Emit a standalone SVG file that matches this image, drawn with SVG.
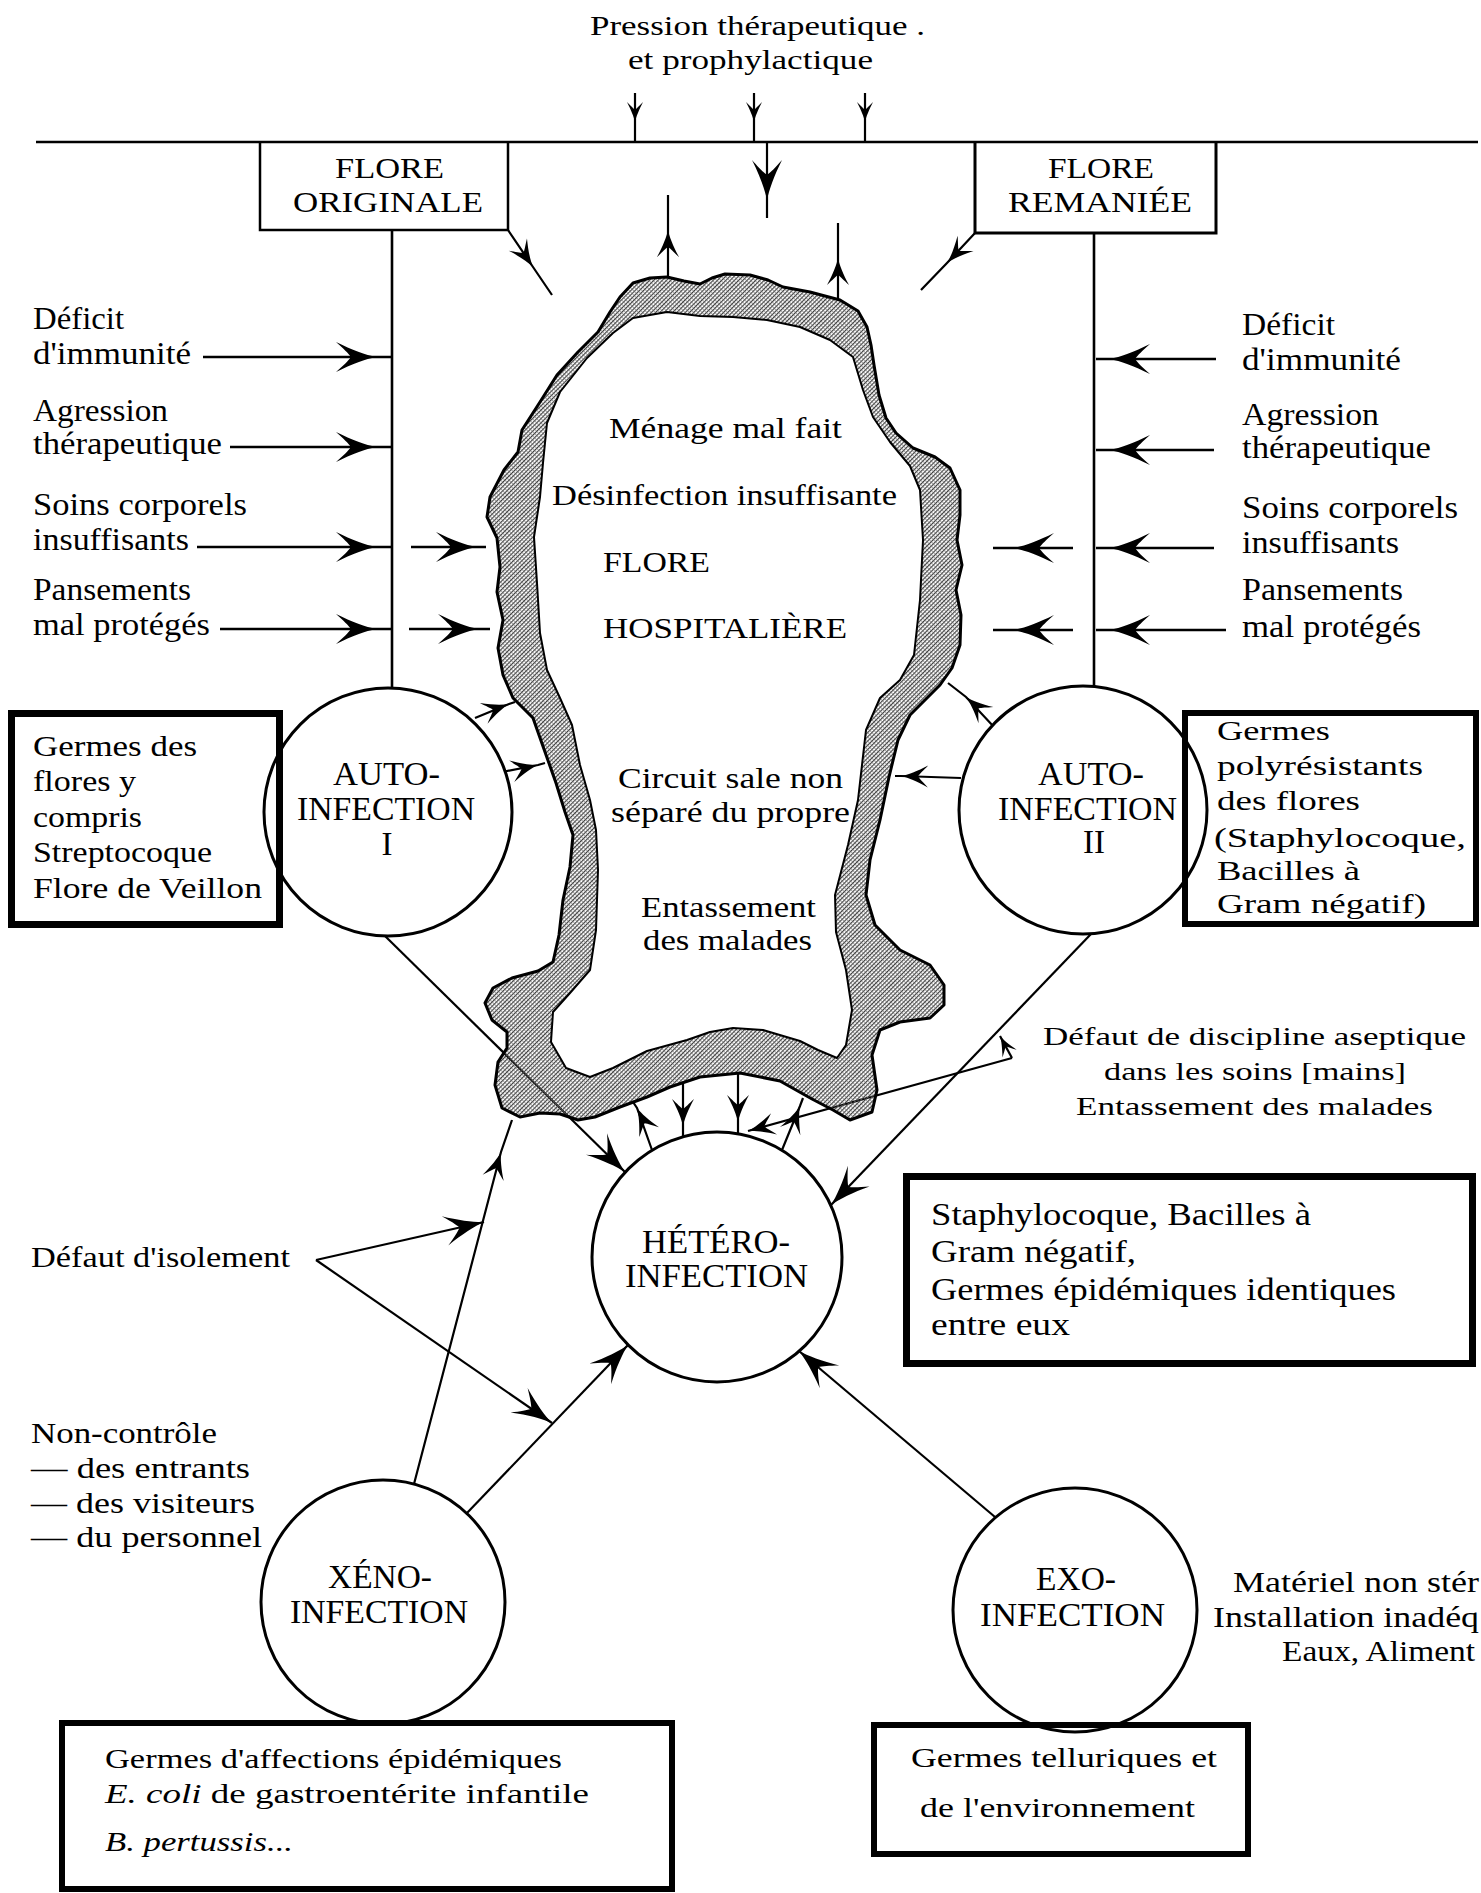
<svg xmlns="http://www.w3.org/2000/svg" width="1481" height="1893" viewBox="0 0 1481 1893">
<style>
.t{font-family:"Liberation Serif","Times New Roman",serif;fill:#000}
.it{font-style:italic}
.ln{stroke:#000;stroke-width:2.2;fill:none}
.lw{stroke:#000;stroke-width:2.6;fill:none}
.ci{fill:#fff;stroke:#000;stroke-width:3}
.bx{fill:none;stroke:#000}
</style>
<defs>
<marker id="ahL" markerUnits="userSpaceOnUse" viewBox="-45 -20 50 40" markerWidth="50" markerHeight="40" refX="0" refY="0" orient="auto" overflow="visible">
<path d="M0,0 C-10,-2 -24,-7 -40,-15 C-32,-8 -28,-4 -25,0 C-28,4 -32,8 -40,15 C-24,7 -10,2 0,0 Z" fill="#000"/>
</marker>
<marker id="ahM" markerUnits="userSpaceOnUse" viewBox="-45 -20 50 40" markerWidth="50" markerHeight="40" refX="0" refY="0" orient="auto" overflow="visible">
<path d="M0,0 C-7,-1.5 -16,-5 -27,-11 C-22,-5.5 -19,-3 -17,0 C-19,3 -22,5.5 -27,11 C-16,5 -7,1.5 0,0 Z" fill="#000"/>
</marker>
<marker id="ahS" markerUnits="userSpaceOnUse" viewBox="-45 -20 50 40" markerWidth="50" markerHeight="40" refX="0" refY="0" orient="auto" overflow="visible">
<path d="M0,0 C-5,-1 -12,-4 -20,-8 C-16,-4 -14,-2 -12,0 C-14,2 -16,4 -20,8 C-12,4 -5,1 0,0 Z" fill="#000"/>
</marker>
<pattern id="hatch" width="3" height="3" patternUnits="userSpaceOnUse" patternTransform="rotate(45)">
<rect width="1.1" height="3" fill="#3a3a3a"/>
<rect y="0" width="3" height="0.6" fill="#6a6a6a"/>
</pattern>
</defs>
<rect width="1481" height="1893" fill="#fff"/>

<g id="connectors">
<path class="lw" d="M36,142 H1478"/>
<path class="ln" d="M635,93 L635,122 L635,142" marker-mid="url(#ahS)"/>
<path class="ln" d="M754,93 L754,122 L754,142" marker-mid="url(#ahS)"/>
<path class="ln" d="M865,93 L865,122 L865,142" marker-mid="url(#ahS)"/>
<path class="ln" d="M767,142 L767,200 L767,218" marker-mid="url(#ahL)"/>
<path class="ln" d="M668,277 L668,230 L668,195" marker-mid="url(#ahM)"/>
<path class="ln" d="M838,300 L838,258 L838,223" marker-mid="url(#ahM)"/>
<path class="ln" d="M508,230 L533,267 L552,295" marker-mid="url(#ahM)"/>
<path class="ln" d="M975,233 L947,263 L921,290" marker-mid="url(#ahM)"/>
<path class="lw" d="M392,230 V688"/>
<path class="lw" d="M1094,233 V686"/>
<path class="lw" d="M203,357 L376,357 L392,357" marker-mid="url(#ahL)"/>
<path class="lw" d="M230,447 L376,447 L392,447" marker-mid="url(#ahL)"/>
<path class="lw" d="M197,547 L376,547 L392,547" marker-mid="url(#ahL)"/>
<path class="lw" d="M220,629 L376,629 L392,629" marker-mid="url(#ahL)"/>
<path class="lw" d="M411,547 L476,547 L486,547" marker-mid="url(#ahL)"/>
<path class="lw" d="M409,629 L478,629 L490,629" marker-mid="url(#ahL)"/>
<path class="lw" d="M1216,359 L1110,359 L1096,359" marker-mid="url(#ahL)"/>
<path class="lw" d="M1214,450 L1110,450 L1096,450" marker-mid="url(#ahL)"/>
<path class="lw" d="M1214,548 L1110,548 L1096,548" marker-mid="url(#ahL)"/>
<path class="lw" d="M1226,630 L1110,630 L1096,630" marker-mid="url(#ahL)"/>
<path class="lw" d="M1073,548 L1014,548 L993,548" marker-mid="url(#ahL)"/>
<path class="lw" d="M1073,630 L1014,630 L993,630" marker-mid="url(#ahL)"/>
<path class="ln" d="M475,718 L509,704 L515,702" marker-mid="url(#ahM)"/>
<path class="ln" d="M502,772 L538,765 L545,763" marker-mid="url(#ahM)"/>
<path class="ln" d="M994,727 L966,697 L948,683" marker-mid="url(#ahM)"/>
<path class="ln" d="M961,778 L901,776 L895,776" marker-mid="url(#ahM)"/>
<path class="ln" d="M385,936 L625,1172" marker-end="url(#ahL)"/>
<path class="ln" d="M1091,934 L831,1205" marker-end="url(#ahL)"/>
<path class="ln" d="M652,1150 L637,1108 L633,1102" marker-mid="url(#ahM)"/>
<path class="ln" d="M683,1083 L683,1126 L683,1137" marker-mid="url(#ahM)"/>
<path class="ln" d="M738,1073 L738,1122 L738,1134" marker-mid="url(#ahM)"/>
<path class="ln" d="M782,1150 L800,1106 L803,1098" marker-mid="url(#ahM)"/>
<path class="ln" d="M1012,1058 L748,1131" marker-end="url(#ahM)"/>
<path class="ln" d="M1012,1058 L1000,1036" marker-end="url(#ahS)"/>
<path class="ln" d="M414,1484 L501,1152 L512,1120" marker-mid="url(#ahM)"/>
<path class="ln" d="M467,1513 L628,1345" marker-end="url(#ahL)"/>
<path class="ln" d="M316,1260 L484,1222" marker-end="url(#ahL)"/>
<path class="ln" d="M316,1260 L552,1423" marker-end="url(#ahL)"/>
<path class="ln" d="M995,1517 L799,1351" marker-end="url(#ahL)"/>
</g>

<g id="flore-hospitaliere">
<path fill="url(#hatch)" fill-rule="evenodd" d="M620,297 L633,283 L650,278 L667,277 L684,281 L700,284 L712,278 L725,274 L750,275 L768,280 L783,287 L810,292 L840,300 L858,311 L867,327 L871,345 L874,365 L879,395 L886,418 L896,433 L913,448 L935,457 L950,468 L960,490 L960,515 L957,540 L962,565 L956,590 L961,615 L960,645 L952,668 L940,685 L925,700 L910,715 L898,740 L889,777 L880,820 L870,860 L866,895 L875,925 L900,950 L930,965 L944,985 L944,1005 L930,1018 L900,1022 L880,1030 L872,1055 L877,1090 L872,1112 L850,1120 L833,1110 L812,1099 L780,1081 L740,1073 L700,1077 L670,1087 L647,1097 L620,1107 L595,1117 L578,1120 L560,1114 L540,1113 L520,1117 L502,1108 L495,1085 L498,1062 L507,1048 L507,1032 L492,1020 L485,1003 L493,988 L512,978 L538,971 L553,962 L559,935 L563,900 L570,867 L573,835 L565,812 L556,783 L545,752 L533,718 L513,698 L503,675 L498,648 L503,620 L497,592 L500,567 L497,538 L487,517 L490,497 L504,470 L518,452 L522,430 L540,402 L557,375 L578,352 L598,332 L610,312 Z M613,333 L633,318 L667,312 L700,316 L733,317 L767,320 L800,327 L830,340 L853,357 L863,390 L873,417 L890,442 L910,466 L920,490 L923,540 L920,600 L914,655 L900,680 L880,698 L866,730 L858,800 L848,845 L835,895 L836,932 L846,970 L852,1010 L846,1045 L837,1058 L818,1050 L800,1041 L763,1030 L733,1028 L710,1032 L687,1040 L647,1051 L613,1068 L590,1077 L566,1068 L551,1042 L553,1012 L570,993 L590,970 L596,930 L598,870 L596,830 L590,800 L580,765 L572,725 L560,698 L547,670 L540,633 L537,583 L534,537 L540,497 L543,463 L547,423 L560,392 L587,358 Z"/>
<path fill="none" stroke="#000" stroke-width="3" stroke-linejoin="round" d="M620,297 L633,283 L650,278 L667,277 L684,281 L700,284 L712,278 L725,274 L750,275 L768,280 L783,287 L810,292 L840,300 L858,311 L867,327 L871,345 L874,365 L879,395 L886,418 L896,433 L913,448 L935,457 L950,468 L960,490 L960,515 L957,540 L962,565 L956,590 L961,615 L960,645 L952,668 L940,685 L925,700 L910,715 L898,740 L889,777 L880,820 L870,860 L866,895 L875,925 L900,950 L930,965 L944,985 L944,1005 L930,1018 L900,1022 L880,1030 L872,1055 L877,1090 L872,1112 L850,1120 L833,1110 L812,1099 L780,1081 L740,1073 L700,1077 L670,1087 L647,1097 L620,1107 L595,1117 L578,1120 L560,1114 L540,1113 L520,1117 L502,1108 L495,1085 L498,1062 L507,1048 L507,1032 L492,1020 L485,1003 L493,988 L512,978 L538,971 L553,962 L559,935 L563,900 L570,867 L573,835 L565,812 L556,783 L545,752 L533,718 L513,698 L503,675 L498,648 L503,620 L497,592 L500,567 L497,538 L487,517 L490,497 L504,470 L518,452 L522,430 L540,402 L557,375 L578,352 L598,332 L610,312 Z"/>
<path fill="none" stroke="#000" stroke-width="2" stroke-linejoin="round" d="M613,333 L633,318 L667,312 L700,316 L733,317 L767,320 L800,327 L830,340 L853,357 L863,390 L873,417 L890,442 L910,466 L920,490 L923,540 L920,600 L914,655 L900,680 L880,698 L866,730 L858,800 L848,845 L835,895 L836,932 L846,970 L852,1010 L846,1045 L837,1058 L818,1050 L800,1041 L763,1030 L733,1028 L710,1032 L687,1040 L647,1051 L613,1068 L590,1077 L566,1068 L551,1042 L553,1012 L570,993 L590,970 L596,930 L598,870 L596,830 L590,800 L580,765 L572,725 L560,698 L547,670 L540,633 L537,583 L534,537 L540,497 L543,463 L547,423 L560,392 L587,358 Z"/>
<g class="t" font-size="29">
<text x="609" y="438" textLength="233" lengthAdjust="spacingAndGlyphs">Ménage mal fait</text>
<text x="552" y="505" textLength="345" lengthAdjust="spacingAndGlyphs">Désinfection insuffisante</text>
<text x="603" y="572" textLength="107" lengthAdjust="spacingAndGlyphs">FLORE</text>
<text x="603" y="638" textLength="244" lengthAdjust="spacingAndGlyphs">HOSPITALIÈRE</text>
<text x="618" y="788" textLength="225" lengthAdjust="spacingAndGlyphs">Circuit sale non</text>
<text x="611" y="822" textLength="239" lengthAdjust="spacingAndGlyphs">séparé du propre</text>
<text x="641" y="917" textLength="175" lengthAdjust="spacingAndGlyphs">Entassement</text>
<text x="643" y="950" textLength="169" lengthAdjust="spacingAndGlyphs">des malades</text>
</g>
</g>

<g id="flore-originale">
<path class="bx" stroke-width="2.5" d="M260,142 V230 H508 V142"/>
<g class="t" font-size="30">
<text x="335" y="178" textLength="109" lengthAdjust="spacingAndGlyphs">FLORE</text>
<text x="293" y="212" textLength="190" lengthAdjust="spacingAndGlyphs">ORIGINALE</text>
</g>
</g>
<g id="flore-remaniee">
<path class="bx" stroke-width="3" d="M975,142 V233 H1216 V142"/>
<g class="t" font-size="30">
<text x="1048" y="178" textLength="106" lengthAdjust="spacingAndGlyphs">FLORE</text>
<text x="1008" y="212" textLength="184" lengthAdjust="spacingAndGlyphs">REMANIÉE</text>
</g>
</g>

<g id="top-label" class="t" font-size="27">
<text x="590" y="35" textLength="335" lengthAdjust="spacingAndGlyphs">Pression thérapeutique .</text>
<text x="628" y="69" textLength="245" lengthAdjust="spacingAndGlyphs">et prophylactique</text>
</g>

<g id="left-factors" class="t" font-size="31">
<text x="33" y="329" textLength="91" lengthAdjust="spacingAndGlyphs">Déficit</text>
<text x="33" y="364" textLength="158" lengthAdjust="spacingAndGlyphs">d'immunité</text>
<text x="33" y="421" textLength="135" lengthAdjust="spacingAndGlyphs">Agression</text>
<text x="33" y="454" textLength="189" lengthAdjust="spacingAndGlyphs">thérapeutique</text>
<text x="33" y="515" textLength="214" lengthAdjust="spacingAndGlyphs">Soins corporels</text>
<text x="33" y="550" textLength="156" lengthAdjust="spacingAndGlyphs">insuffisants</text>
<text x="33" y="600" textLength="158" lengthAdjust="spacingAndGlyphs">Pansements</text>
<text x="33" y="635" textLength="177" lengthAdjust="spacingAndGlyphs">mal protégés</text>
</g>
<g id="right-factors" class="t" font-size="31">
<text x="1242" y="335" textLength="93" lengthAdjust="spacingAndGlyphs">Déficit</text>
<text x="1242" y="370" textLength="159" lengthAdjust="spacingAndGlyphs">d'immunité</text>
<text x="1242" y="425" textLength="137" lengthAdjust="spacingAndGlyphs">Agression</text>
<text x="1242" y="458" textLength="189" lengthAdjust="spacingAndGlyphs">thérapeutique</text>
<text x="1242" y="518" textLength="216" lengthAdjust="spacingAndGlyphs">Soins corporels</text>
<text x="1242" y="553" textLength="157" lengthAdjust="spacingAndGlyphs">insuffisants</text>
<text x="1242" y="600" textLength="161" lengthAdjust="spacingAndGlyphs">Pansements</text>
<text x="1242" y="637" textLength="179" lengthAdjust="spacingAndGlyphs">mal protégés</text>
</g>

<g id="auto-infection-1">
<circle class="ci" cx="388" cy="812" r="124"/>
<g class="t" font-size="33">
<text x="333" y="785" textLength="107" lengthAdjust="spacingAndGlyphs">AUTO-</text>
<text x="297" y="820" textLength="178" lengthAdjust="spacingAndGlyphs">INFECTION</text>
<text x="387" y="855" text-anchor="middle">I</text>
</g>
</g>
<g id="auto-infection-2">
<circle class="ci" cx="1083" cy="810" r="124"/>
<g class="t" font-size="33">
<text x="1038" y="785" textLength="106" lengthAdjust="spacingAndGlyphs">AUTO-</text>
<text x="998" y="820" textLength="179" lengthAdjust="spacingAndGlyphs">INFECTION</text>
<text x="1094" y="853" text-anchor="middle">II</text>
</g>
</g>
<g id="hetero-infection">
<circle class="ci" cx="717" cy="1257" r="125"/>
<g class="t" font-size="33">
<text x="642" y="1253" textLength="148" lengthAdjust="spacingAndGlyphs">HÉTÉRO-</text>
<text x="625" y="1287" textLength="183" lengthAdjust="spacingAndGlyphs">INFECTION</text>
</g>
</g>
<g id="xeno-infection">
<circle class="ci" cx="383" cy="1602" r="122"/>
<g class="t" font-size="33">
<text x="328" y="1588" textLength="104" lengthAdjust="spacingAndGlyphs">XÉNO-</text>
<text x="290" y="1623" textLength="178" lengthAdjust="spacingAndGlyphs">INFECTION</text>
</g>
</g>
<g id="exo-infection">
<circle class="ci" cx="1075" cy="1610" r="122"/>
<g class="t" font-size="33">
<text x="1036" y="1590" textLength="80" lengthAdjust="spacingAndGlyphs">EXO-</text>
<text x="980" y="1626" textLength="185" lengthAdjust="spacingAndGlyphs">INFECTION</text>
</g>
</g>

<g id="box-auto1">
<rect class="bx" stroke-width="7" x="11.5" y="713.5" width="268" height="211"/>
<g class="t" font-size="29">
<text x="33" y="756" textLength="164" lengthAdjust="spacingAndGlyphs">Germes des</text>
<text x="33" y="791" textLength="103" lengthAdjust="spacingAndGlyphs">flores y</text>
<text x="33" y="827" textLength="109" lengthAdjust="spacingAndGlyphs">compris</text>
<text x="33" y="862" textLength="179" lengthAdjust="spacingAndGlyphs">Streptocoque</text>
<text x="33" y="898" textLength="229" lengthAdjust="spacingAndGlyphs">Flore de Veillon</text>
</g>
</g>
<g id="box-auto2">
<rect class="bx" stroke-width="6" x="1185" y="713" width="291" height="211"/>
<g class="t" font-size="28">
<text x="1217" y="740" textLength="113" lengthAdjust="spacingAndGlyphs">Germes</text>
<text x="1217" y="775" textLength="206" lengthAdjust="spacingAndGlyphs">polyrésistants</text>
<text x="1217" y="810" textLength="143" lengthAdjust="spacingAndGlyphs">des flores</text>
<text x="1214" y="847" textLength="252" lengthAdjust="spacingAndGlyphs">(Staphylocoque,</text>
<text x="1217" y="880" textLength="143" lengthAdjust="spacingAndGlyphs">Bacilles à</text>
<text x="1217" y="913" textLength="209" lengthAdjust="spacingAndGlyphs">Gram négatif)</text>
</g>
</g>
<g id="box-hetero">
<rect class="bx" stroke-width="7" x="906.5" y="1176.5" width="566" height="187"/>
<g class="t" font-size="31">
<text x="931" y="1225" textLength="380" lengthAdjust="spacingAndGlyphs">Staphylocoque, Bacilles à</text>
<text x="931" y="1262" textLength="205" lengthAdjust="spacingAndGlyphs">Gram négatif,</text>
<text x="931" y="1300" textLength="465" lengthAdjust="spacingAndGlyphs">Germes épidémiques identiques</text>
<text x="931" y="1335" textLength="139" lengthAdjust="spacingAndGlyphs">entre eux</text>
</g>
</g>
<g id="box-xeno">
<rect class="bx" stroke-width="6" x="62" y="1723" width="610" height="166"/>
<g class="t" font-size="28">
<text x="105" y="1768" textLength="457" lengthAdjust="spacingAndGlyphs">Germes d'affections épidémiques</text>
<text x="105" y="1803" textLength="484" lengthAdjust="spacingAndGlyphs"><tspan class="it">E. coli</tspan> de gastroentérite infantile</text>
<text x="105" y="1851" textLength="188" lengthAdjust="spacingAndGlyphs" class="it">B. pertussis...</text>
</g>
</g>
<g id="box-exo">
<rect class="bx" stroke-width="6" x="874" y="1725" width="374" height="129"/>
<g class="t" font-size="28">
<text x="911" y="1767" textLength="306" lengthAdjust="spacingAndGlyphs">Germes telluriques et</text>
<text x="920" y="1817" textLength="275" lengthAdjust="spacingAndGlyphs">de l'environnement</text>
</g>
</g>

<g id="label-discipline" class="t" font-size="26">
<text x="1043" y="1045" textLength="423" lengthAdjust="spacingAndGlyphs">Défaut de discipline aseptique</text>
<text x="1104" y="1080" textLength="302" lengthAdjust="spacingAndGlyphs">dans les soins [mains]</text>
<text x="1076" y="1115" textLength="357" lengthAdjust="spacingAndGlyphs">Entassement des malades</text>
</g>
<g id="label-isolement" class="t" font-size="29">
<text x="31" y="1267" textLength="259" lengthAdjust="spacingAndGlyphs">Défaut d'isolement</text>
</g>
<g id="label-controle" class="t" font-size="29">
<text x="31" y="1443" textLength="186" lengthAdjust="spacingAndGlyphs">Non-contrôle</text>
<text x="31" y="1478" textLength="219" lengthAdjust="spacingAndGlyphs">— des entrants</text>
<text x="31" y="1513" textLength="224" lengthAdjust="spacingAndGlyphs">— des visiteurs</text>
<text x="31" y="1547" textLength="231" lengthAdjust="spacingAndGlyphs">— du personnel</text>
</g>
<g id="label-exo" class="t" font-size="29">
<text x="1233" y="1592" textLength="246" lengthAdjust="spacingAndGlyphs">Matériel non stér</text>
<text x="1213" y="1627" textLength="266" lengthAdjust="spacingAndGlyphs">Installation inadéq</text>
<text x="1282" y="1661" textLength="193" lengthAdjust="spacingAndGlyphs">Eaux, Aliment</text>
</g>
</svg>
